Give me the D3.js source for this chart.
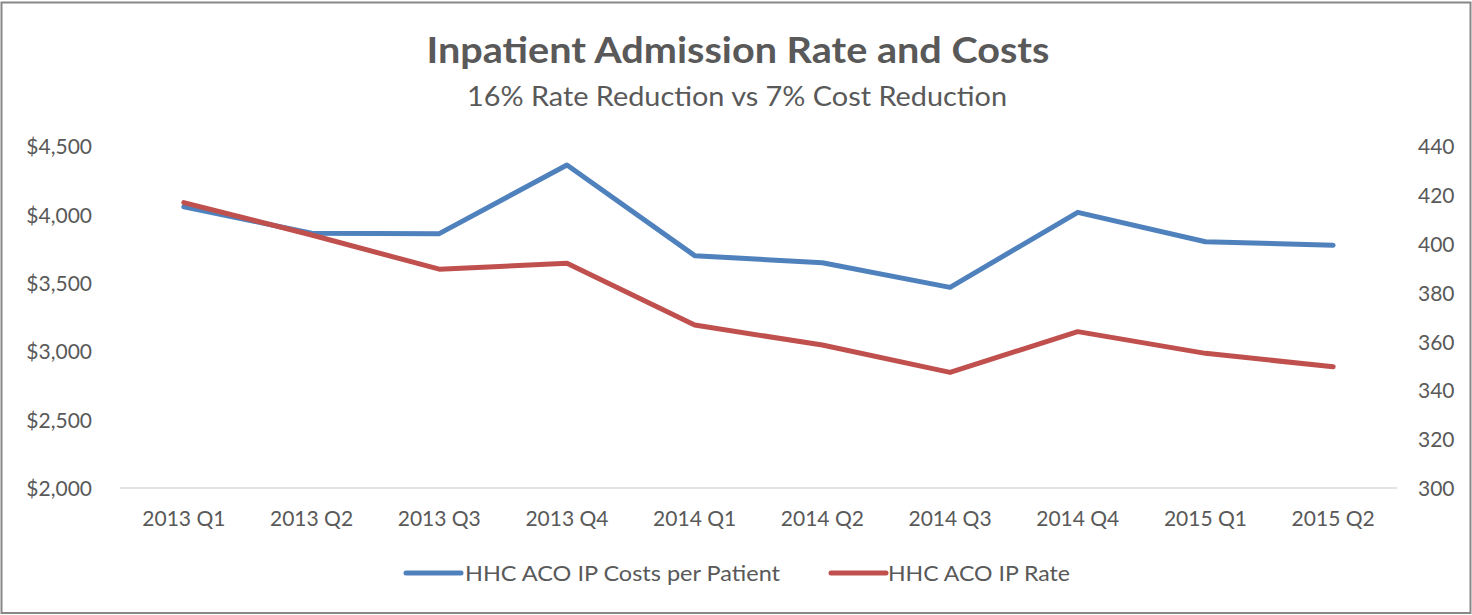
<!DOCTYPE html>
<html>
<head>
<meta charset="utf-8">
<script src="https://cdn.jsdelivr.net/npm/d3@7"></script>
<style>
  html, body { margin: 0; padding: 0; background: #fff; }
  svg { display: block; }
  text { font-family: Lato, "Open Sans", sans-serif; }
</style>
</head>
<body>
<svg id="chart" width="1472" height="615"></svg>
<script>
const categories = ["2013 Q1","2013 Q2","2013 Q3","2013 Q4","2014 Q1","2014 Q2","2014 Q3","2014 Q4","2015 Q1","2015 Q2"];
const costsPerPatient = [4059, 3865, 3862, 4365, 3701, 3649, 3469, 4018, 3803, 3777];
const ipRate = [417.0, 403.7, 389.7, 392.1, 366.8, 358.6, 347.4, 364.1, 355.2, 349.7];
const leftTicks = [2000, 2500, 3000, 3500, 4000, 4500];
const rightTicks = [300, 320, 340, 360, 380, 400, 420, 440];
const seriesNames = ["HHC ACO IP Costs per Patient", "HHC ACO IP Rate"];
const titleText = "Inpatient Admission Rate and Costs";
const subtitleText = "16% Rate Reduction vs 7% Cost Reduction";

const W = 1472, H = 615;
const svg = d3.select("#chart");
const plot = { left: 120, right: 1397, top: 146.5, bottom: 488 };
const blue = "#4F81BD", red = "#C0504D", textCol = "#595959";

// frame
svg.append("rect").attr("x", 1.5).attr("y", 2.5).attr("width", W - 3).attr("height", H - 4.5)
  .attr("fill", "#fff").attr("stroke", "#878787").attr("stroke-width", 2);

// titles
svg.append("text").attr("x", 738).attr("y", 63).attr("text-anchor", "middle")
  .attr("font-size", 36).attr("font-weight", "bold").attr("fill", textCol)
  .attr("textLength", 623).attr("lengthAdjust", "spacingAndGlyphs").text(titleText);
svg.append("text").attr("x", 737).attr("y", 106).attr("text-anchor", "middle")
  .attr("font-size", 26).attr("fill", textCol)
  .attr("textLength", 540).attr("lengthAdjust", "spacingAndGlyphs").text(subtitleText);

const x = d3.scaleBand().domain(categories).range([plot.left, plot.right]);
const yL = d3.scaleLinear().domain([2000, 4500]).range([plot.bottom, plot.top]);
const yR = d3.scaleLinear().domain([300, 440]).range([plot.bottom, plot.top]);

// baseline
svg.append("line").attr("x1", plot.left).attr("x2", plot.right)
  .attr("y1", yL(2000)).attr("y2", yL(2000)).attr("stroke", "#d9d9d9").attr("stroke-width", 1.5);

// axes
const axL = d3.axisLeft(yL).tickValues(leftTicks).tickSize(0).tickPadding(0)
  .tickFormat(d => "$" + d3.format(",")(d));
const gL = svg.append("g").attr("transform", "translate(92,0)").call(axL);
const axR = d3.axisRight(yR).tickValues(rightTicks).tickSize(0).tickPadding(0);
const gR = svg.append("g").attr("transform", "translate(1418,0)").call(axR);
const axB = d3.axisBottom(x).tickSize(0).tickPadding(0);
const gB = svg.append("g").attr("transform", `translate(0,${plot.bottom})`).call(axB);
[gL, gR, gB].forEach(g => {
  g.select(".domain").remove();
  g.selectAll("text").attr("font-family", "Lato, 'Open Sans', sans-serif")
    .attr("font-size", 21).attr("fill", textCol);
});
gL.selectAll("text").attr("dy", "0.35em");
gR.selectAll("text").attr("dy", "0.35em");
gB.selectAll("text").attr("dy", 0).attr("y", 38);

const lineL = d3.line().x((d, i) => x(categories[i]) + x.bandwidth() / 2).y(d => yL(d));
const lineR = d3.line().x((d, i) => x(categories[i]) + x.bandwidth() / 2).y(d => yR(d));

svg.append("path").datum(costsPerPatient).attr("d", lineL).attr("fill", "none")
  .attr("stroke", blue).attr("stroke-width", 5).attr("stroke-linejoin", "round").attr("stroke-linecap", "round");
svg.append("path").datum(ipRate).attr("d", lineR).attr("fill", "none")
  .attr("stroke", red).attr("stroke-width", 5).attr("stroke-linejoin", "round").attr("stroke-linecap", "round");

// legend
const legend = [
  { name: seriesNames[0], color: blue, x0: 406, x1: 461, tx: 465, len: 315 },
  { name: seriesNames[1], color: red, x0: 831, x1: 886, tx: 888, len: 182 }
];
const lg = svg.append("g");
legend.forEach(l => {
  lg.append("line").attr("x1", l.x0).attr("x2", l.x1).attr("y1", 573).attr("y2", 573)
    .attr("stroke", l.color).attr("stroke-width", 5).attr("stroke-linecap", "round");
  lg.append("text").attr("x", l.tx).attr("y", 581).attr("font-size", 22).attr("fill", textCol)
    .attr("textLength", l.len).attr("lengthAdjust", "spacingAndGlyphs").text(l.name);
});
</script>
</body>
</html>
